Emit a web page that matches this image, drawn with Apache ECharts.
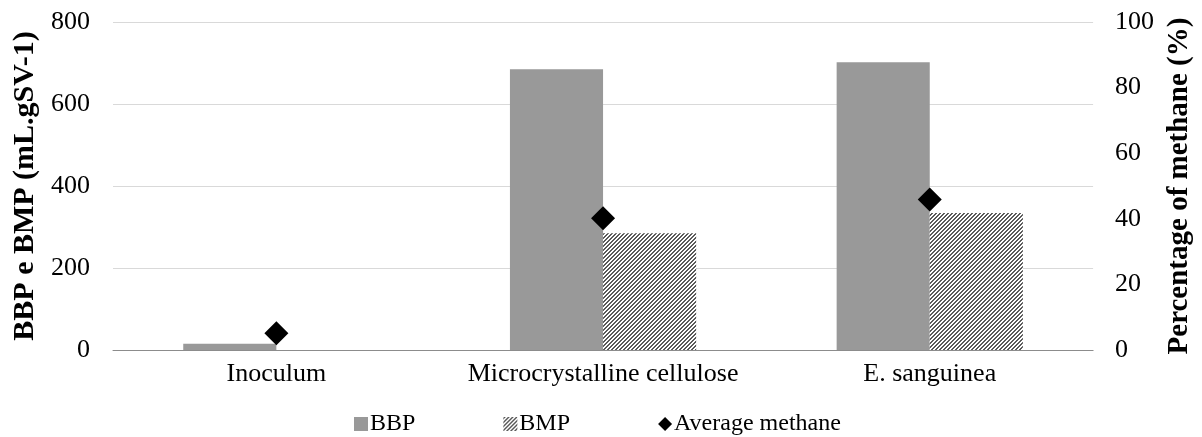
<!DOCTYPE html>
<html>
<head>
<meta charset="utf-8">
<script src="https://cdn.jsdelivr.net/npm/echarts@6/dist/echarts.min.js"></script>
<style>
  html, body { margin: 0; padding: 0; background: #fff; }
  #chart { width: 1202px; height: 437px; }
</style>
</head>
<body>
<div id="chart"></div>
<script>
var categories = ['Inoculum', 'Microcrystalline cellulose', 'E. sanguinea'];
var bbpValues = [15, 685, 702];
var bmpValues = [0, 285, 334];
var methaneValues = [5.1, 40.2, 45.9];
var leftTicks = [0, 200, 400, 600, 800];
var rightTicks = [0, 20, 40, 60, 80, 100];

// diagonal stripe pattern for BMP
function stripes() {
	var c = document.createElement('canvas');
	c.width = 4; c.height = 4;
	var ctx = c.getContext('2d');
	ctx.fillStyle = '#ffffff';
	ctx.fillRect(0, 0, 4, 4);
	ctx.fillStyle = '#5a5a5a';
	for (var x = 0; x < 4; x++) {
		for (var y = 0; y < 4; y++) {
			if ((x + y) % 4 < 2) ctx.fillRect(x, y, 1, 1);
		}
	}
	return c;
}

var font = '"Liberation Serif", "Times New Roman", serif';
var chart = echarts.init(document.getElementById('chart'));

var option = {
	animation: false,
	textStyle: { fontFamily: font, color: '#000' },
	grid: { left: 113, right: 107, top: 22, bottom: 87 },
	legend: {
		top: 407,
		left: 349,
		itemWidth: 14,
		itemHeight: 14,
		itemGap: 88,
		textStyle: { fontFamily: font, fontSize: 24, color: '#000', padding: [0, 0, 0, -3] },
		data: [
			{ name: 'BBP', icon: 'rect' },
			{ name: 'BMP', icon: 'rect' },
			{ name: 'Average methane', icon: 'diamond' }
		]
	},
	xAxis: {
		type: 'category',
		data: categories,
		axisLine: { lineStyle: { color: '#8c8c8c', width: 1 } },
		axisTick: { show: false },
		axisLabel: { fontFamily: font, fontSize: 26, color: '#000', margin: 11, interval: 0 }
	},
	yAxis: [
		{
			type: 'value',
			min: 0, max: 800, interval: 200,
			name: 'BBP e BMP (mL.gSV-1)',
			nameLocation: 'middle',
			nameGap: 72,
			nameTextStyle: { fontFamily: font, fontSize: 30, fontWeight: 'bold', color: '#000' },
			axisLine: { show: false },
			axisTick: { show: false },
			axisLabel: { fontFamily: font, fontSize: 26, color: '#000', margin: 23 },
			splitLine: { lineStyle: { color: '#d9d9d9', width: 1 } }
		},
		{
			type: 'value',
			min: 0, max: 100, interval: 20,
			name: 'Percentage of methane (%)',
			nameLocation: 'middle',
			nameGap: 67,
			nameTextStyle: { fontFamily: font, fontSize: 29, fontWeight: 'bold', color: '#000' },
			axisLine: { show: false },
			axisTick: { show: false },
			axisLabel: { fontFamily: font, fontSize: 26, color: '#000', margin: 22 },
			splitLine: { show: false }
		}
	],
	series: [
		{
			name: 'BBP',
			type: 'bar',
			data: bbpValues,
			barGap: '0%',
			barCategoryGap: '43%',
			itemStyle: { color: '#999999' }
		},
		{
			name: 'BMP',
			type: 'bar',
			data: bmpValues,
			itemStyle: { color: { image: stripes(), repeat: 'repeat' } }
		},
		{
			name: 'Average methane',
			type: 'scatter',
			yAxisIndex: 1,
			data: methaneValues,
			symbol: 'diamond',
			symbolSize: 24,
			itemStyle: { color: '#000', opacity: 1 },
			z: 5
		}
	]
};

chart.setOption(option);
</script>
</body>
</html>
